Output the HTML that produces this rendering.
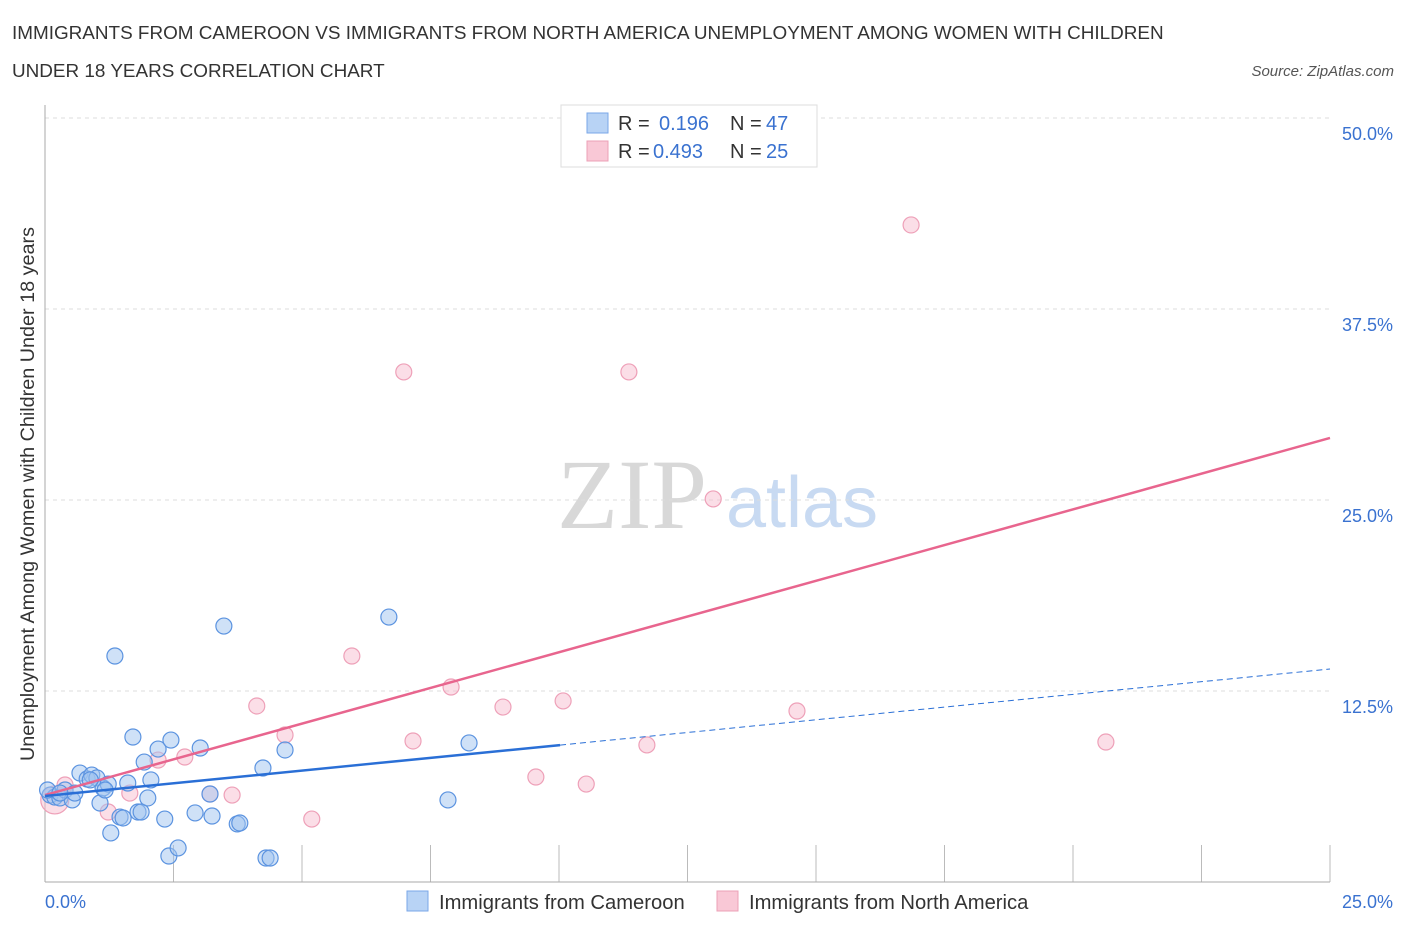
<!DOCTYPE html>
<html><head><meta charset="utf-8"><style>
body{margin:0;background:#fff;font-family:"Liberation Sans",sans-serif;}
svg{display:block}
</style></head><body>
<svg id="c" width="1406" height="930">
<text x="12" y="39" font-size="18.9" fill="#333">IMMIGRANTS FROM CAMEROON VS IMMIGRANTS FROM NORTH AMERICA UNEMPLOYMENT AMONG WOMEN WITH CHILDREN</text>
<text x="12" y="77" font-size="18.9" fill="#333">UNDER 18 YEARS CORRELATION CHART</text>
<text x="1394" y="76" font-size="15" fill="#555" font-style="italic" text-anchor="end">Source: ZipAtlas.com</text>
<text x="0" y="0" transform="translate(34,494) rotate(-90)" font-size="19.8" fill="#333" text-anchor="middle">Unemployment Among Women with Children Under 18 years</text>
<g>
<text x="632" y="528" font-size="100" font-family="Liberation Serif,serif" fill="#d8d8d8" text-anchor="middle">ZIP</text>
<text x="802" y="527" font-size="72" fill="#c8daf2" text-anchor="middle">atlas</text>
</g>
<g id="grid"></g><g id="marks"></g>
<g>
<rect x="561" y="105" width="256" height="62" fill="#fff" stroke="#ddd"/>
<rect x="587" y="113" width="21" height="20" fill="#b8d3f5" stroke="#7aa7e8"/>
<rect x="587" y="141" width="21" height="20" fill="#f9c8d6" stroke="#eca0b7"/>
<text x="618" y="130" font-size="20" fill="#333">R = </text><text x="659" y="130" font-size="20" fill="#3a72d0">0.196</text>
<text x="730" y="130" font-size="20" fill="#333">N = </text><text x="766" y="130" font-size="20" fill="#3a72d0">47</text>
<text x="618" y="158" font-size="20" fill="#333">R = </text><text x="653" y="158" font-size="20" fill="#3a72d0">0.493</text>
<text x="730" y="158" font-size="20" fill="#333">N = </text><text x="766" y="158" font-size="20" fill="#3a72d0">25</text>
</g>
<g>
<rect x="407" y="891" width="21" height="20" fill="#b8d3f5" stroke="#7aa7e8"/>
<text x="439" y="909" font-size="20.2" fill="#333">Immigrants from Cameroon</text>
<rect x="717" y="891" width="21" height="20" fill="#f9c8d6" stroke="#eca0b7"/>
<text x="749" y="909" font-size="20.2" fill="#333">Immigrants from North America</text>
</g>
</svg>
<script>
const blueX=[0.10,0.19,0.29,0.39,0.53,0.58,0.68,0.82,0.91,1.01,1.07,1.13,1.23,1.28,1.36,1.46,1.52,1.61,1.71,1.81,1.87,1.93,2.00,2.06,2.20,2.33,2.41,2.45,2.59,2.92,3.02,3.21,3.25,3.48,3.74,3.79,4.24,4.30,4.38,4.67,6.69,7.84,8.25,0.05,0.29,0.88,1.17];
const blueY=[5.69,5.56,5.50,6.02,5.37,5.82,7.13,6.74,7.00,6.81,5.17,6.15,6.41,3.21,14.79,4.25,4.19,6.48,9.49,4.58,4.58,7.85,5.50,6.68,8.70,4.12,1.70,9.29,2.23,4.52,8.77,5.76,4.32,16.75,3.80,3.86,7.46,1.57,1.57,8.64,17.34,5.37,9.10,6.02,5.82,6.68,6.02];
const pinkX=[0.19,0.39,1.23,1.65,2.20,2.72,3.21,3.64,4.12,4.67,5.19,5.97,6.98,7.16,7.90,8.91,9.55,10.08,10.53,11.36,11.71,13.00,14.63,16.85,20.64];
const pinkY=[5.37,6.35,4.58,5.82,7.98,8.18,5.76,5.69,11.52,9.62,4.12,14.79,33.38,9.23,12.76,11.45,6.87,11.85,6.41,33.38,8.97,25.07,11.19,43.0,9.16];
const blueTrend=[5.63,13.94];
const blueSolidEnd=10.02;
const pinkTrend=[5.69,29.06];
const yTicks=[12.5,25,37.5,50];
const yTickLabels=["12.5%","25.0%","37.5%","50.0%"];
const xTicks=[0,2.5,5,7.5,10,12.5,15,17.5,20,22.5,25];
const NS="http://www.w3.org/2000/svg";
const X=v=>45+v/25*1285, Y=v=>882-v/50*764;
function mk(t,a,p){const e=document.createElementNS(NS,t);for(const k in a)e.setAttribute(k,a[k]);p.appendChild(e);return e;}
const g=document.getElementById('grid'),m=document.getElementById('marks');
yTicks.forEach((t,i)=>{
 const l=mk('line',{x1:45,x2:1330,y1:Y(t),y2:Y(t),stroke:'#ddd','stroke-dasharray':'4,4'},g);
 
 
 const tx=mk('text',{x:1393,y:Y(t)+22,'font-size':18,fill:'#3a72d0','text-anchor':'end'},g);
 tx.textContent=yTickLabels[i];
 
 
});
xTicks.forEach(t=>{
 const l=mk('line',{x1:X(t),x2:X(t),y1:845,y2:882,stroke:'#bbb'},g);
 
 
});
let a=mk('line',{x1:45,x2:45,y1:105,y2:882,stroke:'#aaa'},g);


a=mk('line',{x1:45,x2:1330,y1:882,y2:882,stroke:'#aaa'},g);


let t=mk('text',{x:45,y:908,'font-size':18,fill:'#3a72d0'},g);t.textContent='0.0%';


t=mk('text',{x:1393,y:908,'font-size':18,fill:'#3a72d0','text-anchor':'end'},g);t.textContent='25.0%';


pinkX.forEach((x,i)=>{
 const c=mk('circle',{cx:X(x),cy:Y(pinkY[i]),r:i==0?14:8,fill:'rgba(248,190,208,0.5)',stroke:'#eea0b8','stroke-width':1.2},m);
 
 
});
blueX.forEach((x,i)=>{
 const c=mk('circle',{cx:X(x),cy:Y(blueY[i]),r:8,fill:'rgba(160,195,240,0.5)',stroke:'#5b93e0','stroke-width':1.2},m);
 
 
});
const bAt=x=>blueTrend[0]+(blueTrend[1]-blueTrend[0])*x/25;
let l=mk('line',{x1:X(0),y1:Y(pinkTrend[0]),x2:X(25),y2:Y(pinkTrend[1]),stroke:'#e8658e','stroke-width':2.5},m);


l=mk('line',{x1:X(0),y1:Y(bAt(0)),x2:X(blueSolidEnd),y2:Y(bAt(blueSolidEnd)),stroke:'#2a6fd6','stroke-width':2.5},m);


l=mk('line',{x1:X(blueSolidEnd),y1:Y(bAt(blueSolidEnd)),x2:X(25),y2:Y(bAt(25)),stroke:'#2a6fd6','stroke-width':1,'stroke-dasharray':'6,4'},m);


</script>
</body></html>
